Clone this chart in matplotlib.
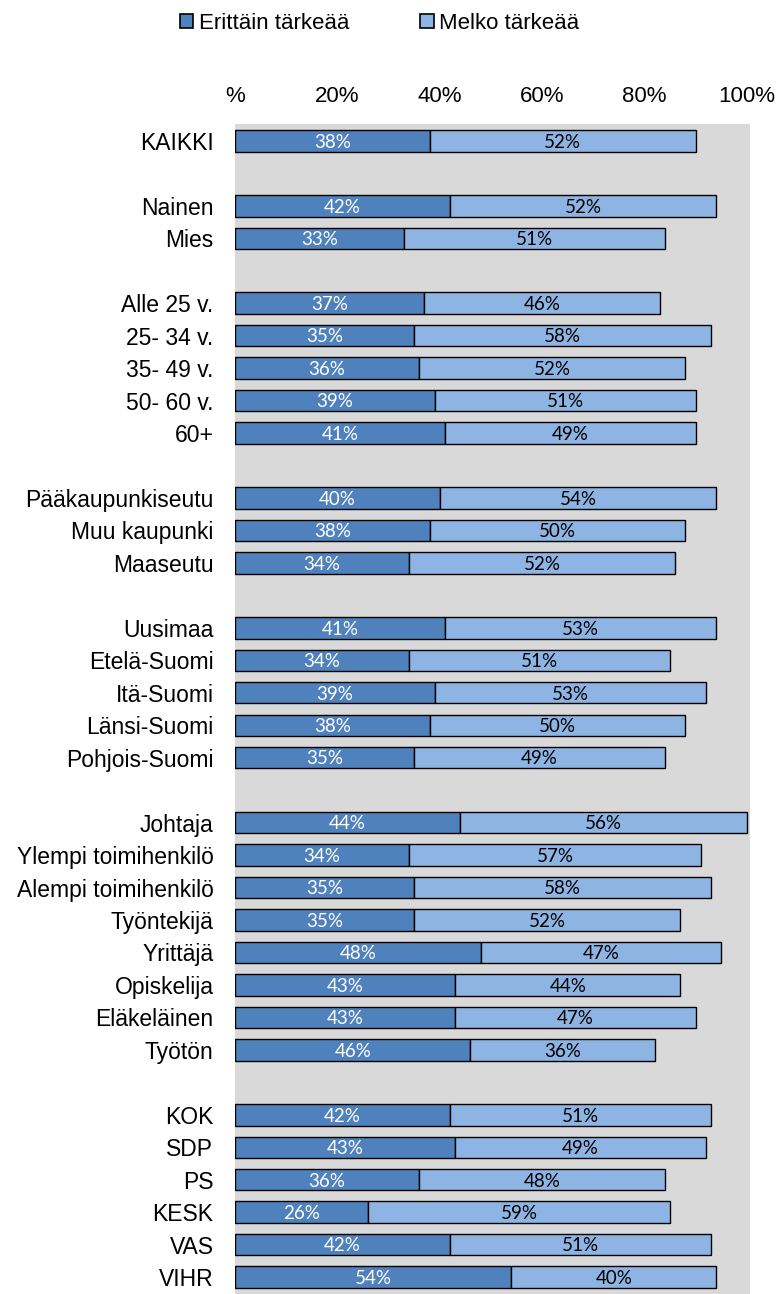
import matplotlib
matplotlib.use("Agg")
import matplotlib.pyplot as plt
from matplotlib.patches import Patch

categories = ["KAIKKI", "", "Nainen", "Mies", "",
              "Alle 25 v.", "25- 34 v.", "35- 49 v.", "50- 60 v.", "60+", "",
              "Pääkaupunkiseutu", "Muu kaupunki", "Maaseutu", "",
              "Uusimaa", "Etelä-Suomi", "Itä-Suomi", "Länsi-Suomi", "Pohjois-Suomi", "",
              "Johtaja", "Ylempi toimihenkilö", "Alempi toimihenkilö", "Työntekijä",
              "Yrittäjä", "Opiskelija", "Eläkeläinen", "Työtön", "",
              "KOK", "SDP", "PS", "KESK", "VAS", "VIHR"]
erittain = [38, None, 42, 33, None,
            37, 35, 36, 39, 41, None,
            40, 38, 34, None,
            41, 34, 39, 38, 35, None,
            44, 34, 35, 35, 48, 43, 43, 46, None,
            42, 43, 36, 26, 42, 54]
melko = [52, None, 52, 51, None,
         46, 58, 52, 51, 49, None,
         54, 50, 52, None,
         53, 51, 53, 50, 49, None,
         56, 57, 58, 52, 47, 44, 47, 36, None,
         51, 49, 48, 59, 51, 40]
series_names = ["Erittäin tärkeää", "Melko tärkeää"]
xtick_values = [0, 20, 40, 60, 80, 100]
xtick_labels = ["%", "20%", "40%", "60%", "80%", "100%"]

c_dark = "#4F81BD"
c_light = "#8EB4E3"
lab_font = ["Liberation Sans", "DejaVu Sans"]
bar_font = ["Lato", "DejaVu Sans"]

fig = plt.figure(figsize=(7.8, 12.94), dpi=100)
ax = fig.add_axes([235/780, 0.0, 515/780, 1 - 124/1294])
ax.set_facecolor("#D9D9D9")

n = len(categories)
for i, (a, b) in enumerate(zip(erittain, melko)):
    if a is None:
        continue
    ax.barh(i, a, left=0, height=0.66, color=c_dark, edgecolor="black", linewidth=1.0)
    ax.barh(i, b, left=a, height=0.66, color=c_light, edgecolor="black", linewidth=1.0)
    ax.text(a / 2, i + 0.04, f"{a}%", ha="center", va="center", color="white",
            fontsize=13.5, family=bar_font)
    ax.text(a + b / 2, i + 0.04, f"{b}%", ha="center", va="center", color="black",
            fontsize=13.5, family=bar_font)

ax.set_xlim(0, 100.6)
ax.set_ylim(n - 0.48, -0.52)
ax.set_yticks(range(n))
ax.set_yticklabels(categories, fontsize=16.5, family=lab_font)
ax.tick_params(axis="y", length=0, pad=15.5)
ax.xaxis.tick_top()
ax.set_xticks(xtick_values)
ax.set_xticklabels(xtick_labels, fontsize=16, family=lab_font)
ax.tick_params(axis="x", length=0, pad=12)
for s in ax.spines.values():
    s.set_visible(False)

handles = [Patch(facecolor=c_dark, edgecolor="black", linewidth=1.2),
           Patch(facecolor=c_light, edgecolor="black", linewidth=1.2)]
fig.legend(handles, series_names, loc="upper left", bbox_to_anchor=(180/780, 1 - 13/1294),
           ncol=2, frameon=False, prop={"family": lab_font, "size": 16},
           handlelength=0.6, handleheight=0.6, handletextpad=0.25, columnspacing=3.2,
           borderpad=0, borderaxespad=0)

fig.savefig("out.png", dpi=100)
